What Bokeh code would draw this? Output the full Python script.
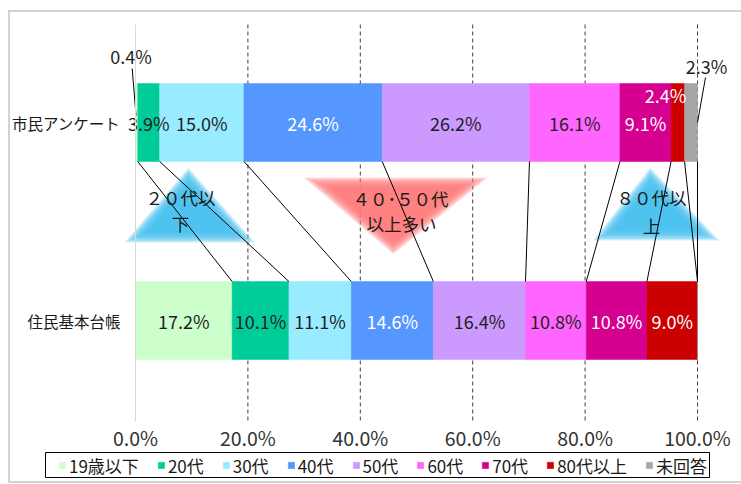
from bokeh.plotting import figure
from bokeh.models import FixedTicker, Legend, LegendItem, Range1d, ColumnDataSource
from bokeh.embed import file_html
from bokeh.resources import INLINE
from bokeh.core.properties import value

# ---------------- data ----------------
groups = ["市民アンケート", "住民基本台帳"]
series = ["19歳以下", "20代", "30代", "40代", "50代", "60代", "70代", "80代以上", "未回答"]
survey = [0.4, 3.9, 15.0, 24.6, 26.2, 16.1, 9.1, 2.4, 2.3]
registry = [17.2, 10.1, 11.1, 14.6, 16.4, 10.8, 10.8, 9.0, 0.0]
x_ticks = [0, 20, 40, 60, 80, 100]
x_tick_labels = ["0.0%", "20.0%", "40.0%", "60.0%", "80.0%", "100.0%"]

# ---------------- styles ----------------
colors = ["#CCFFCC", "#00CC99", "#99EBFF", "#5596FF", "#CC99FF",
          "#FF66FF", "#D5008F", "#CC0000", "#A6A6A6"]
DARK = "#1F1F1F"
label_colors = [DARK, DARK, DARK, "#FFFFFF", DARK, DARK, "#FFFFFF", "#FFFFFF", DARK]
FONT = "Noto Sans CJK JP"

W, H = 741, 484
# canvas pixel geometry (the frame covers the whole canvas)
FX0, FX1 = 135.0, 697.0          # 0% .. 100%
Y_TOP_BAR, Y_BOT_BAR = 122.0, 320.0
PX_PER_Y = Y_BOT_BAR - Y_TOP_BAR
PLOT_TOP, PLOT_BOT = 24.0, 421.0
BORDER = (8, 10, 741, 481)       # chart-area border (l, t, r, b)
LEGEND_BOX = (45, 452, 709, 477)


def sx(px):
    return (px - FX0) / (FX1 - FX0) * 100.0


def sy(py):
    return (Y_BOT_BAR - py) / PX_PER_Y


bar_h = 78.0 / PX_PER_Y
bar_y = [1.0, 0.0]          # survey on top, registry below

p = figure(width=W, height=H, output_backend="svg", toolbar_location=None,
           x_range=Range1d(sx(0), sx(W)), y_range=Range1d(sy(H), sy(0)),
           min_border_left=0, min_border_right=0, min_border_top=0, min_border_bottom=0)
p.outline_line_color = None
p.background_fill_color = "white"
p.border_fill_color = "white"
p.grid.visible = False

# x axis (placed inside the frame)
p.xaxis.fixed_location = sy(409)
p.xaxis.ticker = FixedTicker(ticks=x_ticks)
p.xaxis.major_label_overrides = {t: l for t, l in zip(x_ticks, x_tick_labels)}
p.xaxis.axis_line_color = None
p.xaxis.major_tick_line_color = None
p.xaxis.minor_tick_line_color = None
p.xaxis.major_label_text_font = FONT
p.xaxis.major_label_text_font_size = "19.5px"
p.xaxis.major_label_text_color = "#333333"
p.xaxis.major_label_standoff = 7

# y axis (category axis at 0%)
p.yaxis.fixed_location = 0
p.yaxis.bounds = (sy(PLOT_BOT), sy(PLOT_TOP))
p.yaxis.ticker = FixedTicker(ticks=bar_y)
p.yaxis.major_label_overrides = {1: groups[0], 0: groups[1]}
p.yaxis.axis_line_color = "#D9D9D9"
p.yaxis.axis_line_width = 1
p.yaxis.major_tick_line_color = None
p.yaxis.minor_tick_line_color = None
p.yaxis.major_tick_out = 0
p.yaxis.major_tick_in = 0
p.yaxis.major_label_text_font = FONT
p.yaxis.major_label_text_font_size = "15.5px"
p.yaxis.major_label_text_color = "#1A1A1A"
p.yaxis.major_label_standoff = 15

# chart-area border
bl, bt, br, bb = BORDER
p.segment(x0=[sx(bl + 0.5), sx(bl), sx(bl)], y0=[sy(bt), sy(bt + 0.5), sy(bb + 0.5)],
          x1=[sx(bl + 0.5), sx(br), sx(br)], y1=[sy(bb), sy(bt + 0.5), sy(bb + 0.5)],
          line_color="#A6A6A6", line_width=1)

# dashed vertical gridlines
p.segment(x0=x_ticks[1:], x1=x_ticks[1:], y0=[sy(PLOT_TOP)] * 5, y1=[sy(PLOT_BOT)] * 5,
          line_color="#404040", line_dash="4 3", line_width=1)

# ---------------- decorative glowing triangles ----------------
decor = [
    dict(pts=[(188, 175), (135, 237), (243, 237)], color="#47C1ED"),
    dict(pts=[(317, 182), (473, 182), (393, 247)], color="#FF7B7B"),
    dict(pts=[(650, 175), (603, 235), (707, 235)], color="#47C1ED"),
]
decor_texts = [
    ("２０代以", 180, 197), ("下", 180, 223),
    ("４０･５０代", 400, 198), ("以上多い", 401, 223),
    ("８０代以", 651, 197), ("上", 651, 225),
]


def tri_scaled(pts, e):
    (x1, y1), (x2, y2), (x3, y3) = pts
    a = ((x2 - x3) ** 2 + (y2 - y3) ** 2) ** 0.5
    b = ((x1 - x3) ** 2 + (y1 - y3) ** 2) ** 0.5
    c = ((x1 - x2) ** 2 + (y1 - y2) ** 2) ** 0.5
    per = a + b + c
    ix = (a * x1 + b * x2 + c * x3) / per
    iy = (a * y1 + b * y2 + c * y3) / per
    area = abs((x2 - x1) * (y3 - y1) - (x3 - x1) * (y2 - y1)) / 2
    r = 2 * area / per
    s = (r + e) / r
    return [ix + (x - ix) * s for x, _ in pts], [iy + (y - iy) * s for _, y in pts]


for d in decor:
    n = 8
    for k in range(n):
        e = 5 - k * 1.5
        xs, ys = tri_scaled(d["pts"], e)
        p.patch([sx(v) for v in xs], [sy(v) for v in ys],
                fill_color=d["color"], fill_alpha=0.3, line_color=None)

# ---------------- bars ----------------
legend_items = []
cum_s = 0.0
cum_r = 0.0
spans_s, spans_r = [], []
for i, name in enumerate(series):
    ls, lr = cum_s, cum_r
    cum_s += survey[i]
    cum_r += registry[i]
    spans_s.append((ls, cum_s))
    spans_r.append((lr, cum_r))
    src = ColumnDataSource(dict(y=bar_y, left=[ls, lr], right=[cum_s, cum_r]))
    r = p.hbar(y="y", left="left", right="right", height=bar_h, source=src,
               fill_color=colors[i], line_color=colors[i], line_width=0.5)
    legend_items.append(LegendItem(label=name, renderers=[r]))

# series (connector) lines between the bars
p.segment(x0=[s[1] for s in spans_s], y0=[1.0 - bar_h / 2] * len(series),
          x1=[s[1] for s in spans_r], y1=[bar_h / 2] * len(series),
          line_color="#000000", line_width=1)

# ---------------- data labels ----------------
special_pos = {0: (130.5, 55.5), 7: (665, 94), 8: (706, 65)}   # survey label placement (px)
leaders = [((131.7, 68), (135.5, 115)), ((705, 77), (697, 122))]

tx, ty, tt, tc = [], [], [], []
for i in range(len(series)):
    for row, vals, spans in ((0, survey, spans_s), (1, registry, spans_r)):
        v = vals[i]
        if v <= 0:
            continue
        if row == 0 and i in special_pos:
            px, py = special_pos[i]
            x, y = sx(px), sy(py)
        else:
            x = (spans[i][0] + spans[i][1]) / 2
            y = bar_y[row]
        tx.append(x)
        ty.append(y)
        tt.append(f"{v:.1f}%")
        tc.append(label_colors[i])
p.text(x=tx, y=ty, text=tt, text_color=tc, text_font=value(FONT),
       text_font_size="18px", text_align="center", text_baseline="middle")

for (a, b) in leaders:
    p.line([sx(a[0]), sx(b[0])], [sy(a[1]), sy(b[1])], line_color="#000000", line_width=1)

# decoration texts
p.text(x=[sx(t[1]) for t in decor_texts], y=[sy(t[2]) for t in decor_texts],
       text=[t[0] for t in decor_texts], text_color="#1A1A1A", text_font=value(FONT),
       text_font_size="17.5px", text_align="center", text_baseline="middle")

# ---------------- legend ----------------
lb_l, lb_t, lb_r, lb_b = LEGEND_BOX
p.quad(left=[sx(lb_l)], right=[sx(lb_r)], top=[sy(lb_t)], bottom=[sy(lb_b)],
       fill_color="white", line_color="#000000", line_width=1)
legend = Legend(items=legend_items, orientation="horizontal", location=(58, H - 477.5),
                glyph_width=8, glyph_height=8, label_standoff=3, spacing=18,
                label_text_font=FONT, label_text_font_size="17px",
                label_text_color="#1A1A1A", label_height=25,
                padding=0, margin=0, border_line_color=None,
                background_fill_alpha=0)
p.add_layout(legend, "center")

open("out.html", "w").write(file_html(p, INLINE))
